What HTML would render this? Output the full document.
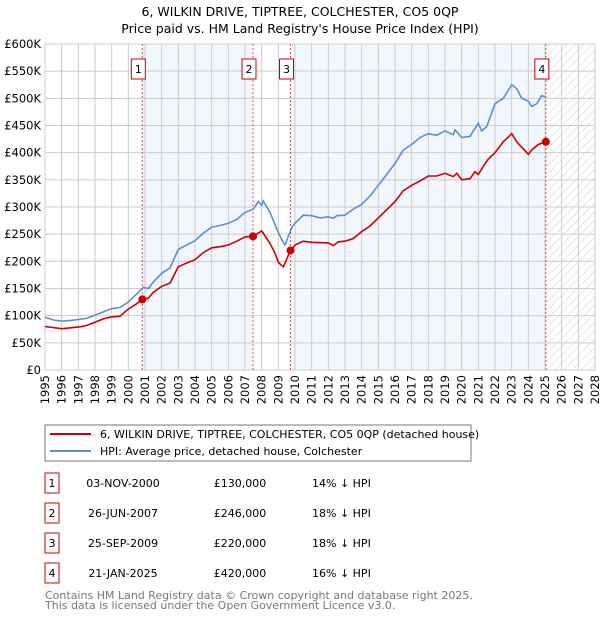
<!DOCTYPE html>
<html><head><meta charset="utf-8"><style>
body{margin:0;background:#fff;font-family:"Liberation Sans","DejaVu Sans",sans-serif;}
svg text{font-family:"DejaVu Sans","Liberation Sans",sans-serif;}
</style></head><body>
<svg id="c" width="600" height="620" viewBox="0 0 600 620" xmlns="http://www.w3.org/2000/svg">
<defs><pattern id="hatch" width="6" height="6" patternUnits="userSpaceOnUse" patternTransform="rotate(45)"><line x1="0" y1="0" x2="0" y2="6" stroke="#ccc" stroke-width="1"/></pattern></defs>
<text x="300" y="16" text-anchor="middle" font-size="12.5">6, WILKIN DRIVE, TIPTREE, COLCHESTER, CO5 0QP</text>
<text x="300" y="33" text-anchor="middle" font-size="12.5">Price paid vs. HM Land Registry's House Price Index (HPI)</text>
<g id="plot"></g>
<rect x="45" y="425" width="426" height="36" fill="#fff" stroke="#777"/>
<line x1="50" y1="434" x2="91" y2="434" stroke="#cc0000" stroke-width="2"/>
<text x="100" y="438" font-size="11">6, WILKIN DRIVE, TIPTREE, COLCHESTER, CO5 0QP (detached house)</text>
<line x1="50" y1="451" x2="91" y2="451" stroke="#5b8fd1" stroke-width="2"/>
<text x="100" y="455" font-size="11">HPI: Average price, detached house, Colchester</text>
<g id="tbl"></g>
<text x="45" y="599" font-size="11" fill="#777">Contains HM Land Registry data © Crown copyright and database right 2025.</text>
<text x="45" y="609" font-size="11" fill="#777">This data is licensed under the Open Government Licence v3.0.</text>
</svg>
<script>
const hpiYears=[1995,1995.5,1996,1996.5,1997,1997.5,1998,1998.5,1999,1999.5,2000,2000.5,2000.9,2001.2,2001.5,2002,2002.5,2003,2003.5,2004,2004.5,2005,2005.5,2006,2006.5,2007,2007.5,2007.8,2008,2008.1,2008.5,2008.9,2009.2,2009.4,2009.8,2010,2010.5,2011,2011.5,2012,2012.3,2012.5,2013,2013.5,2014,2014.5,2015,2015.5,2016,2016.5,2017,2017.5,2018,2018.5,2019,2019.5,2019.6,2020,2020.5,2020.7,2021,2021.2,2021.5,2022,2022.5,2023,2023.3,2023.6,2024,2024.2,2024.5,2024.8,2025];
const hpiValues=[97,92,90,91,93,95,101,107,113,115,125,140,152,150,162,178,188,222,230,238,252,263,266,270,277,290,296,310,303,311,290,260,240,230,262,270,285,284,280,282,279,284,285,296,305,320,340,360,380,405,415,428,435,432,440,433,442,428,430,440,454,440,448,490,500,525,518,500,495,485,490,505,503];
const redYears=[1995,1996,1997,1997.5,1998,1998.5,1999,1999.5,2000,2000.5,2000.84,2001.2,2001.5,2002,2002.5,2003,2003.5,2004,2004.5,2005,2005.5,2006,2006.5,2007,2007.48,2008,2008.5,2008.8,2009,2009.3,2009.73,2010,2010.5,2011,2012,2012.3,2012.6,2013,2013.5,2014,2014.5,2015,2015.5,2016,2016.5,2017,2017.5,2018,2018.5,2019,2019.5,2019.7,2020,2020.5,2020.8,2021,2021.3,2021.6,2022,2022.5,2023,2023.3,2023.6,2024,2024.2,2024.6,2025.05];
const redValues=[80,76,79,82,88,94,98,99,112,122,130,132,143,154,160,190,197,203,216,225,227,230,237,245,246,256,233,215,198,190,220,230,237,235,234,229,236,237,242,255,265,280,295,310,330,340,348,357,357,362,356,362,350,352,365,360,375,388,400,420,435,420,410,397,405,415,420];
const saleLabels=["1","2","3","4"];
const saleYears=[2000.84,2007.48,2009.73,2025.05];
const salePrices=[130,246,220,420];
const saleDates=["03-NOV-2000","26-JUN-2007","25-SEP-2009","21-JAN-2025"];
const salePriceText=["£130,000","£246,000","£220,000","£420,000"];
const saleHpiText=["14% ↓ HPI","18% ↓ HPI","18% ↓ HPI","16% ↓ HPI"];
const yTicks=[0,50,100,150,200,250,300,350,400,450,500,550,600];
const yTickLabels=["£0","£50K","£100K","£150K","£200K","£250K","£300K","£350K","£400K","£450K","£500K","£550K","£600K"];
const xTicks=[];for(let y=1995;y<=2028;y++)xTicks.push(y);

const NS="http://www.w3.org/2000/svg";
const X0=45,X1=595,Y0=370,Y1=44;
const x=v=>X0+(v-1995)/(2028-1995)*(X1-X0);
const y=v=>Y0-v/600*(Y0-Y1);
const plot=document.getElementById('plot'),tbl=document.getElementById('tbl');
function mk(tag,attrs,parent){const e=document.createElementNS(NS,tag);for(const k in attrs)e.setAttribute(k,attrs[k]);(parent||plot).appendChild(e);return e;}

let e=mk('rect',{x:X0,y:Y1,width:X1-X0,height:Y0-Y1,fill:'#fff'});


const bands=[[saleYears[0],saleYears[1]],[saleYears[2],saleYears[3]]];
bands.forEach((b,i)=>{const r=mk('rect',{x:x(b[0]),y:Y1,width:x(b[1])-x(b[0]),height:Y0-Y1,fill:'#eef3fc',opacity:0.75});

});
e=mk('rect',{x:x(saleYears[3]),y:Y1,width:X1-x(saleYears[3]),height:Y0-Y1,fill:'url(#hatch)'});


yTicks.forEach((t,i)=>{const l=mk('line',{x1:X0,x2:X1,y1:y(t),y2:y(t),stroke:'#ccc','stroke-width':1});


const tx=mk('text',{x:41,y:y(t)+4,'text-anchor':'end','font-size':11.5});tx.textContent=yTickLabels[i];

});
xTicks.forEach(t=>{const l=mk('line',{x1:x(t),x2:x(t),y1:Y1,y2:Y0,stroke:'#ccc','stroke-width':1});


const tx=mk('text',{x:0,y:0,'text-anchor':'end','font-size':11.5,transform:`translate(${x(t)+4},375) rotate(-90)`});tx.textContent=t;

});
e=mk('rect',{x:X0,y:Y1,width:X1-X0,height:Y0-Y1,fill:'none',stroke:'#ccc'});


saleYears.forEach((s,i)=>{const l=mk('line',{x1:x(s),x2:x(s),y1:Y1,y2:Y0,stroke:'#e05050','stroke-width':1,'stroke-dasharray':'2,2'});


const r=mk('rect',{x:x(s)-11,y:59,width:14,height:20,fill:'#fff',stroke:'#cc0000'});


const t=mk('text',{x:x(s)-4,y:73,'text-anchor':'middle','font-size':11});t.textContent=saleLabels[i];

});
const pts=(xs,vs)=>xs.map((v,i)=>x(v).toFixed(1)+','+y(vs[i]).toFixed(1)).join(' ');
e=mk('polyline',{points:pts(hpiYears,hpiValues),fill:'none',stroke:'#5b8fd1','stroke-width':1.6});


e=mk('polyline',{points:pts(redYears,redValues),fill:'none',stroke:'#cc0000','stroke-width':1.6});


saleYears.forEach((s,i)=>{const c=mk('circle',{cx:x(s),cy:y(salePrices[i]),r:4,fill:'#cc0000'});

});
saleLabels.forEach((lab,i)=>{const cy=483+i*30;
const r=mk('rect',{x:45,y:cy-10,width:14,height:20,fill:'#fff',stroke:'#cc0000'},tbl);


const cells=[[52,'middle',lab,'table-row-number'],[123,'middle',saleDates[i],'table-date'],[240,'middle',salePriceText[i],'table-price'],[312,'start',saleHpiText[i],'table-hpi-diff']];
cells.forEach(c=>{const t=mk('text',{x:c[0],y:cy+4,'text-anchor':c[1],'font-size':11},tbl);t.textContent=c[2];

});});
</script>
</body></html>
